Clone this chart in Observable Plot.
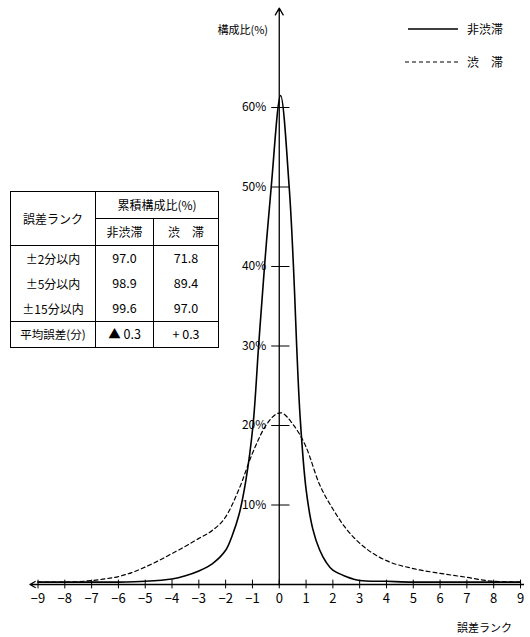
<!DOCTYPE html>
<html><head><meta charset="utf-8">
<script src="https://cdn.jsdelivr.net/npm/d3@7"></script>
<script src="https://cdn.jsdelivr.net/npm/@observablehq/plot@0.6"></script>
<style>
body{margin:0;background:#fff;font-family:"Noto Sans CJK JP","Noto Sans",sans-serif;color:#000}
#wrap{position:relative;width:530px;height:637px;overflow:hidden}
#wrap svg{position:absolute;left:0;top:0}
.lab{position:absolute;font-size:11px;white-space:nowrap;line-height:1}
#tbl{position:absolute;left:10px;top:191px;border-collapse:collapse;border:1.5px solid #000;font-size:12px;background:#fff}
#tbl td{border-left:1px solid #000;border-right:1px solid #000;padding:0;text-align:center;line-height:1}
#tbl tr.hd td{height:26px}
#tbl tr.bd td{height:25px}
#tbl tr.top td{border-top:1px solid #000}
#tbl td.top{border-top:1px solid #000}
#tbl td.num{font-size:12.5px}
</style>
</head><body><div id="wrap"></div>
<script>
// 誤差ランク (x) and 構成比 (%) for 非渋滞 (solid)
const solidX = [-9,-8,-7,-6,-5,-4,-3.5,-3,-2.5,-2,-1.75,-1.5,-1.25,-0.98,-0.77,-0.55,-0.3,0.05,0.37,0.53,0.65,0.78,1,1.25,1.5,1.75,2,2.5,3,4,5,6,7,8,9];
const solidY = [0.3,0.3,0.3,0.3,0.4,0.7,1.1,1.7,2.6,4.3,6.2,8.8,13,20,30,40,50,61.5,50,40,30,21,12,7,4.4,2.8,1.8,1.0,0.5,0.4,0.3,0.3,0.3,0.3,0.3];
// 渋滞 (dashed)
const dashX = [-9,-8,-7,-6.5,-6,-5.5,-5,-4.5,-4,-3.5,-3,-2.5,-2,-1.5,-1,-0.5,0.05,0.5,1,1.5,2,2.5,3,3.5,4,5,6,7,8,9];
const dashY = [0.3,0.3,0.5,0.7,1.0,1.5,2.2,3.0,3.9,4.8,5.8,6.8,8.5,12,16.5,20,21.6,20.2,17.3,12.6,9.5,7.0,5.2,3.9,3.0,2.0,1.4,0.9,0.4,0.3];
const seriesNames = ["非渋滞","渋　滞"];
const xTicks = [-9,-8,-7,-6,-5,-4,-3,-2,-1,0,1,2,3,4,5,6,7,8,9];
const yTicks = [10,20,30,40,50,60];
// table
const rankLabels = ["±2分以内","±5分以内","±15分以内"];
const nonCongested = ["97.0","98.9","99.6"];
const congested = ["71.8","89.4","97.0"];
const meanErrorLabel = "平均誤差(分)";
const meanError = ["▲ 0.3","+ 0.3"];

const solid = solidX.map((x,i)=>({x, y: solidY[i]}));
const dash = dashX.map((x,i)=>({x, y: dashY[i]}));

const chart = Plot.plot({
  width:530, height:637,
  marginLeft:37.5, marginRight:10, marginTop:27.5, marginBottom:53,
  x:{domain:[-9,9]},
  y:{domain:[0,70], axis:null},
  style:{fontFamily:'"Noto Sans CJK JP","Noto Sans",sans-serif', background:"transparent"},
  marks:[
    Plot.lineY(dash,{x:"x",y:"y",curve:"monotone-x",stroke:"#000",strokeWidth:1.2,strokeDasharray:"4,3"}),
    Plot.lineY(solid,{x:"x",y:"y",curve:"catmull-rom",stroke:"#000",strokeWidth:1.6}),
    Plot.ruleY([0],{x1:0,x2:9.15,stroke:"#000",strokeWidth:1.3}),
    Plot.arrow([0],{x1:0,y1:0,x2:-9.3,y2:0,stroke:"#000",strokeWidth:1.3,headLength:7}),
    Plot.arrow([0],{x1:0,y1:0,x2:0,y2:72.5,stroke:"#000",strokeWidth:1.3,headLength:9}),
    Plot.ruleX(xTicks,{x:d=>d,y1:-0.55,y2:0.55,stroke:"#000",strokeWidth:1}),
    Plot.axisX({ticks:xTicks,tickSize:0,tickPadding:9,fontSize:13,label:null}),
    Plot.ruleY(yTicks,{y:d=>d,x1:-0.28,x2:0.4,stroke:"#000",strokeWidth:1}),
    Plot.text(yTicks,{x:0,y:d=>d,text:d=>d+"%",dx:-13,textAnchor:"end",fontSize:12,letterSpacing:-1})
  ]
});
const wrap = document.getElementById("wrap");
wrap.appendChild(chart);

function addLab(text, css){
  const d = document.createElement("div");
  d.className = "lab"; d.textContent = text;
  Object.assign(d.style, css);
  wrap.appendChild(d);
}
addLab("構成比(%)", {right:(530-268)+"px", top:"24px"});
addLab("誤差ランク", {right:"18px", top:"622px"});

// legend
const leg = document.createElementNS("http://www.w3.org/2000/svg","svg");
leg.setAttribute("width","60"); leg.setAttribute("height","50");
leg.style.position="absolute"; leg.style.left="402px"; leg.style.top="20px";
leg.innerHTML = '<line x1="6" x2="56" y1="9" y2="9" stroke="#000" stroke-width="1.4"/>'+
  '<line x1="3" x2="56" y1="42" y2="42" stroke="#000" stroke-width="1.2" stroke-dasharray="4,3"/>';
wrap.appendChild(leg);
addLab(seriesNames[0], {left:"467px", top:"23px", fontSize:"12px"});
addLab(seriesNames[1], {left:"467px", top:"56px", fontSize:"12px"});

// table
let html = '<colgroup><col style="width:85px"><col style="width:58px"><col style="width:65px"></colgroup>';
html += '<tr class="hd"><td rowspan="2">誤差ランク</td><td colspan="2">累積構成比(%)</td></tr>';
html += `<tr class="hd"><td class="top">${seriesNames[0]}</td><td class="top">${seriesNames[1]}</td></tr>`;
rankLabels.forEach((r,i)=>{
  html += `<tr class="bd${i===0?' top':''}"><td>${r}</td><td class="num">${nonCongested[i]}</td><td class="num">${congested[i]}</td></tr>`;
});
html += `<tr class="bd top"><td style="font-size:11.5px">${meanErrorLabel}</td><td class="num">${meanError[0]}</td><td class="num">${meanError[1]}</td></tr>`;
const tbl = document.createElement("table");
tbl.id = "tbl"; tbl.innerHTML = html;
wrap.appendChild(tbl);
</script>
</body></html>
